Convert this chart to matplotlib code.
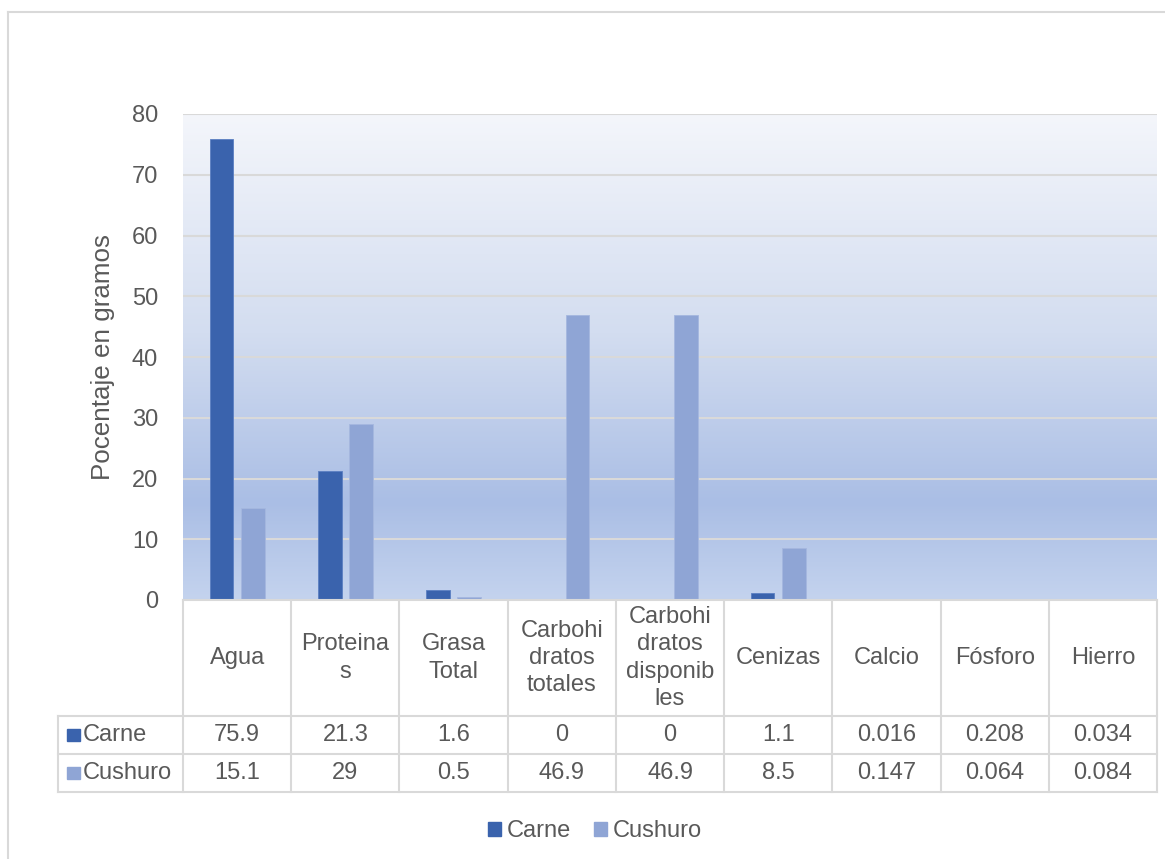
import numpy as np
import matplotlib
matplotlib.use("Agg")
import matplotlib.pyplot as plt
from matplotlib.colors import LinearSegmentedColormap
from matplotlib.patches import Rectangle
from matplotlib.lines import Line2D
import matplotlib.transforms as mtransforms

plt.rcParams['font.family'] = ['Liberation Sans', 'DejaVu Sans']

categorias = ['Agua', 'Proteina\ns', 'Grasa\nTotal', 'Carbohi\ndratos\ntotales',
              'Carbohi\ndratos\ndisponib\nles', 'Cenizas', 'Calcio', 'Fósforo', 'Hierro']
carne = [75.9, 21.3, 1.6, 0, 0, 1.1, 0.016, 0.208, 0.034]
cushuro = [15.1, 29, 0.5, 46.9, 46.9, 8.5, 0.147, 0.064, 0.084]
series = ['Carne', 'Cushuro']
colores = ['#3a63ad', '#8fa5d5']
gris = '#595959'
linea = '#d9d9d9'
fs = 17

W, H = 1165, 859
fig = plt.figure(figsize=(W / 100, H / 100), dpi=100)

# outer chart border (only left and top are visible in the crop)
fig.add_artist(Line2D([8 / W, 8 / W], [0, 1 - 12 / H], color=linea, lw=1.5))
fig.add_artist(Line2D([8 / W, 1], [1 - 12 / H, 1 - 12 / H], color=linea, lw=1.5))

x0, x1, ytop, ybot = 183, 1157, 114, 600
ax = fig.add_axes([x0 / W, 1 - ybot / H, (x1 - x0) / W, (ybot - ytop) / H])

# gradient background
cmap = LinearSegmentedColormap.from_list('fondo', [(0, '#f4f6fb'), (0.45, '#d3ddf0'),
                                                   (0.8, '#aabee5'), (1, '#c4d3ee')])
grad = np.linspace(0, 1, 256).reshape(-1, 1)
ax.imshow(grad, cmap=cmap, aspect='auto', extent=[0, 1, 0, 1],
          transform=ax.transAxes, zorder=0)

x = np.arange(len(categorias))
w = 0.22
ax.bar(x - 0.145, carne, w, color=colores[0], edgecolor='#5b7fc2', lw=0.6, zorder=3, label=series[0])
ax.bar(x + 0.145, cushuro, w, color=colores[1], edgecolor='#a5b7df', lw=0.6, zorder=3, label=series[1])

ax.set_xlim(-0.5, len(categorias) - 0.5)
ax.set_ylim(0, 80)
ax.set_yticks(range(0, 81, 10))
for v in range(10, 81, 10):
    ax.axhline(v, color=linea, lw=1.5, zorder=1)
ax.set_xticks([])
ax.tick_params(axis='y', length=0, pad=18, labelsize=fs, labelcolor=gris)
for s in ax.spines.values():
    s.set_visible(False)
ax.set_ylabel('Pocentaje en gramos', fontsize=18.7, color=gris)
ax.yaxis.set_label_coords((115 - x0) / (x1 - x0), 0.5)

# data table under the plot
trans = mtransforms.blended_transform_factory(ax.transData, ax.transAxes)
ph = ybot - ytop
def yy(py):
    return (ybot - py) / ph

r0, r1, r2, r3 = yy(600), yy(716), yy(754), yy(792)
xl = -0.5 + (58 - x0) / ((x1 - x0) / len(categorias))
kw = dict(color=linea, lw=1.5, transform=trans, clip_on=False, zorder=5)
ax.plot([-0.5, 8.5], [r0, r0], **kw)
for yv in (r1, r2, r3):
    ax.plot([xl, 8.5], [yv, yv], **kw)
for i in range(len(categorias) + 1):
    ax.plot([i - 0.5, i - 0.5], [r0, r3], **kw)
ax.plot([xl, xl], [r1, r3], **kw)

for i, cat in enumerate(categorias):
    ax.text(i, (r0 + r1) / 2, cat, transform=trans, ha='center', va='center',
            fontsize=fs, color=gris, linespacing=1.3)
    ax.text(i, (r1 + r2) / 2, '{:g}'.format(carne[i]), transform=trans,
            ha='center', va='center', fontsize=fs, color=gris)
    ax.text(i, (r2 + r3) / 2, '{:g}'.format(cushuro[i]), transform=trans,
            ha='center', va='center', fontsize=fs, color=gris)

cw = (x1 - x0) / len(categorias)
for j, (nom, yc) in enumerate(zip(series, [(r1 + r2) / 2, (r2 + r3) / 2])):
    kx = -0.5 + (67 - x0) / cw
    sq = 12.5 / cw
    ax.add_patch(Rectangle((kx, yc - 6.25 / ph), sq, 12.5 / ph, transform=trans,
                           color=colores[j], clip_on=False, zorder=6))
    ax.text(-0.5 + (83 - x0) / cw, yc, nom, transform=trans, ha='left', va='center',
            fontsize=fs, color=gris)

handles = [Rectangle((0, 0), 1, 1, color=c) for c in colores]
fig.legend(handles, series, loc='center', bbox_to_anchor=(595 / W, 1 - 831 / H),
           ncol=2, frameon=False, fontsize=fs, labelcolor=gris,
           handlelength=0.53, handleheight=0.53, handletextpad=0.25, columnspacing=1.0)

fig.savefig('out.png', dpi=100)
